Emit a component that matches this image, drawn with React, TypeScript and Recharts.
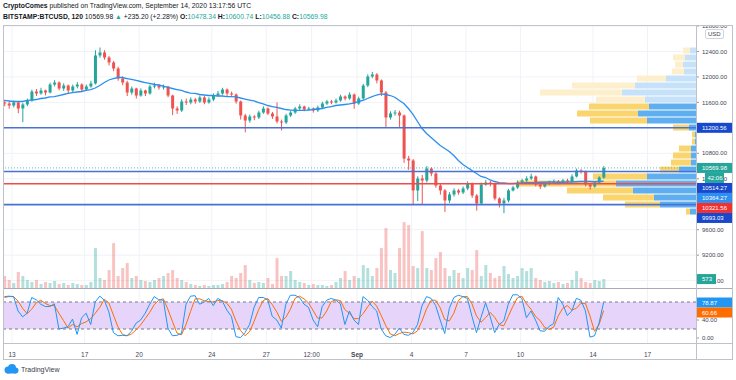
import React from 'react';
import { ComposedChart, Bar, Line, XAxis, YAxis, CartesianGrid, ReferenceLine, ReferenceArea, Cell } from 'recharts';

// 6-hour candles, BITSTAMP:BTCUSD, Aug 12 -> Sep 14 2020 (t = days since Aug 13 00:00)
const START_DAY = -0.42;
const BAR_DAYS = 0.25;
const FIRST_OPEN = 11600;

const CLOSE = [
  11582, 11551, 11598, 11504, 11567, 11630, 11771, 11740, 11787, 11755,
  11881, 11912, 11818, 11865, 11787, 11850, 11881, 11802, 11850, 11897,
  12337, 12384, 12305, 12227, 12132, 11975, 11912, 11755, 11818, 11708,
  11787, 11740, 11850, 11865, 11834, 11850, 11708, 11504, 11473, 11614,
  11598, 11645, 11614, 11677, 11598, 11645, 11708, 11740, 11802, 11740,
  11724, 11614, 11394, 11315, 11378, 11363, 11441, 11504, 11425, 11378,
  11300, 11284, 11394, 11441, 11504, 11535, 11488, 11504, 11473, 11520,
  11582, 11614, 11598, 11630, 11692, 11661, 11724, 11582, 11661, 11865,
  12007, 12038, 11944, 11755, 11363, 11426, 11441, 11394, 10718, 10687,
  10216, 10404, 10373, 10561, 10483, 10294, 10216, 10059, 10153, 10216,
  10184, 10247, 10326, 10137, 10012, 10310, 10341, 10326, 10090, 10012,
  10059, 10216, 10263, 10341, 10373, 10404, 10436, 10310, 10279, 10326,
  10341, 10357, 10341, 10373, 10357, 10436, 10530, 10514, 10310, 10279,
  10341, 10420, 10569.98,
];
const HIGH = [
  11640, 11610, 11630, 11620, 11590, 11660, 11800, 11810, 11830, 11800,
  11910, 11950, 11930, 11900, 11880, 11880, 11920, 11900, 11880, 11940,
  12420, 12462, 12420, 12330, 12250, 12160, 12010, 11940, 11850, 11830,
  11820, 11800, 11880, 11910, 11890, 11880, 11860, 11720, 11540, 11650,
  11660, 11680, 11670, 11710, 11700, 11680, 11740, 11780, 11830, 11820,
  11770, 11740, 11630, 11420, 11410, 11400, 11470, 11540, 11520, 11450,
  11600, 11330, 11420, 11470, 11530, 11570, 11550, 11530, 11520, 11550,
  11610, 11640, 11640, 11660, 11720, 11710, 11760, 11740, 11690, 11890,
  12040, 12080, 12060, 11960, 11780, 11460, 11480, 11470, 11410, 10760,
  10710, 10440, 10460, 10600, 10580, 10500, 10320, 10240, 10190, 10250,
  10240, 10280, 10360, 10340, 10160, 10340, 10380, 10370, 10340, 10110,
  10100, 10240, 10290, 10370, 10400, 10440, 10480, 10450, 10330, 10350,
  10370, 10390, 10380, 10400, 10400, 10470, 10560, 10550, 10530, 10330,
  10360, 10440, 10600.74,
];
const LOW = [
  11540, 11500, 11520, 11430, 11290, 11540, 11610, 11700, 11720, 11710,
  11740, 11850, 11790, 11780, 11740, 11760, 11820, 11760, 11780, 11830,
  11880, 12300, 12270, 12180, 12090, 11940, 11870, 11700, 11720, 11660,
  11690, 11700, 11720, 11820, 11800, 11800, 11680, 11400, 11420, 11450,
  11560, 11570, 11580, 11590, 11570, 11580, 11620, 11690, 11720, 11700,
  11690, 11580, 11330, 11130, 11280, 11320, 11340, 11420, 11400, 11340,
  11270, 11160, 11260, 11370, 11420, 11480, 11460, 11470, 11440, 11450,
  11500, 11560, 11570, 11580, 11610, 11630, 11640, 11500, 11560, 11640,
  11840, 11980, 11900, 11700, 11200, 11330, 11390, 11200, 10650, 10540,
  9990, 10050, 10000, 10340, 10440, 10260, 10150, 9880, 10020, 10120,
  10150, 10160, 10220, 10100, 9900, 9990, 10290, 10280, 10060, 9950,
  9860, 10030, 10200, 10240, 10320, 10350, 10380, 10280, 10240, 10260,
  10300, 10320, 10310, 10320, 10330, 10340, 10420, 10480, 10280, 10230,
  10260, 10320, 10400,
];
const VOLUME = [
  768, 512, 320, 1024, 768, 512, 384, 512, 256, 384,
  320, 448, 256, 320, 192, 320, 256, 192, 192, 384,
  2560, 640, 512, 1152, 2880, 768, 1280, 1600, 640, 768,
  512, 448, 384, 512, 640, 768, 960, 1152, 640, 512,
  384, 256, 192, 128, 192, 128, 192, 192, 256, 384,
  768, 640, 960, 1472, 512, 320, 384, 320, 640, 256,
  1920, 768, 768, 1088, 512, 384, 320, 192, 256, 192,
  192, 128, 192, 384, 640, 1088, 512, 768, 640, 1472,
  1280, 768, 1280, 2560, 3840, 1152, 960, 2560, 4224, 4032,
  1408, 1280, 3648, 1280, 1152, 1920, 2304, 1280, 768, 1152,
  960, 640, 1280, 1152, 2432, 768, 1472, 960, 640, 768,
  1408, 896, 640, 768, 1280, 1088, 1280, 640, 512, 384,
  448, 320, 384, 256, 320, 512, 1088, 640, 384, 320,
  512, 448, 573,
];
const MA = [
  11630, 11622, 11614, 11614, 11614, 11630, 11637, 11645, 11661, 11669,
  11685, 11692, 11708, 11724, 11740, 11755, 11763, 11771, 11787, 11802,
  11826, 11865, 11912, 11952, 11975, 11991, 11991, 11975, 11960, 11944,
  11928, 11912, 11897, 11881, 11873, 11857, 11834, 11818, 11802, 11787,
  11763, 11747, 11740, 11724, 11716, 11708, 11708, 11700, 11700, 11692,
  11692, 11685, 11669, 11653, 11637, 11622, 11598, 11575, 11551, 11535,
  11520, 11504, 11488, 11480, 11473, 11473, 11473, 11480, 11488, 11496,
  11504, 11520, 11535, 11551, 11559, 11567, 11575, 11590, 11614, 11630,
  11661, 11692, 11716, 11735, 11724, 11708, 11681, 11630, 11582, 11504,
  11410, 11300, 11190, 11111, 11049, 10986, 10923, 10876, 10829, 10766,
  10687, 10624, 10577, 10530, 10483, 10436, 10420, 10381, 10357, 10341,
  10334, 10326, 10326, 10330, 10334, 10338, 10341, 10341, 10345, 10345,
  10349, 10349, 10345, 10345, 10349, 10349, 10353, 10357, 10357, 10357,
  10353, 10357, 10361,
];
const STOCH_K = [
  92, 93, 92, 60, 47, 55, 90, 85, 75, 70,
  70, 76, 20, 22, 25, 42, 8, 45, 55, 30,
  80, 93, 84, 58, 12, 5, 6, 5, 15, 33,
  40, 55, 75, 92, 85, 84, 22, 5, 6, 10,
  75, 93, 94, 75, 80, 88, 72, 88, 82, 62,
  48, 3, 1, 12, 30, 68, 90, 90, 85, 48,
  40, 22, 75, 95, 95, 90, 75, 68, 40, 25,
  70, 84, 88, 84, 76, 30, 60, 40, 30, 92,
  84, 70, 60, 20, 5, 1, 8, 22, 8, 6,
  12, 30, 72, 92, 88, 72, 40, 10, 65, 90,
  95, 92, 88, 48, 12, 46, 78, 48, 12, 30,
  38, 75, 96, 96, 88, 45, 60, 40, 16, 15,
  26, 32, 90, 75, 50, 60, 88, 84, 60, 2,
  5, 33, 78.87,
];
const STOCH_D = [
  90, 92, 92, 82, 66, 54, 64, 78, 84, 77,
  72, 72, 55, 39, 22, 30, 25, 32, 36, 43,
  55, 68, 86, 78, 51, 25, 8, 5, 9, 18,
  29, 43, 57, 74, 84, 87, 64, 37, 11, 7,
  30, 59, 87, 87, 83, 81, 80, 83, 83, 77,
  64, 38, 17, 5, 14, 37, 63, 83, 88, 74,
  58, 37, 46, 64, 88, 93, 87, 78, 61, 44,
  45, 60, 81, 85, 83, 63, 55, 43, 43, 54,
  69, 82, 71, 50, 28, 9, 5, 10, 13, 12,
  9, 16, 38, 65, 84, 84, 67, 41, 38, 55,
  83, 92, 92, 76, 49, 35, 45, 57, 46, 30,
  27, 48, 70, 89, 93, 76, 64, 48, 39, 24,
  19, 24, 49, 66, 72, 62, 66, 77, 77, 49,
  15, 30, 60.66,
];

// visible-range volume profile, bins of 110 USD from 9830 upward (up = blue, down = yellow)
const PROFILE_BASE = 9830;
const PROFILE_STEP = 110;
const PROFILE_UP = [60, 360, 420, 630, 800, 490, 170, 50, 50, 50, 10, 10, 70, 490, 580, 470, 510, 740, 610, 300, 120, 130, 110, 60];
const PROFILE_DOWN = [40, 350, 510, 660, 990, 540, 190, 200, 180, 120, 30, 30, 160, 570, 610, 600, 490, 820, 630, 290, 120, 80, 120, 70];
const VALUE_AREA_TOP = 15;

const TIME_TICKS = [0, 4, 7, 11, 14, 16.5, 19, 22, 25, 28, 32, 35];
const TIME_LABELS = ['13', '17', '20', '24', '27', '12:00', 'Sep', '4', '7', '10', '14', '17'];
const PRICE_GRID = [8800, 9200, 9600, 10000, 10400, 10800, 11200, 11600, 12000, 12400, 12800];
const PRICE_TICKS = [8800, 9200, 9600, 10400, 10800, 11600, 12000, 12400, 12800];
const STOCH_TICKS = [0, 40];

const LEVELS_BLUE = [11200.56, 10514.27, 9993.03];
const LEVEL_RED = 10321.56;
const LAST_PRICE = 10569.98;
const TAG_PRICES = [11200.56, 10569.98, 10569.98, 10514.27, 10364.27, 10321.56, 9993.03];
const TAG_TEXTS = ['11200.56', '10569.98', '42:06', '10514.27', '10364.27', '10321.56', '9993.03'];
const STOCH_TAG_VALUES = [78.87, 60.66];

// ---- styling
const FONT = '"Liberation Sans", Arial, sans-serif';
const TEXT = '#434651';
const GRID = '#f0f2f7';
const FRAME = '#bfc2ca';
const UP = '#26a69a';
const DOWN = '#ef5350';
const TAG_COLORS = ['#1848cc', '#26a69a', '#26a69a', '#1848cc', '#2e8ff0', '#f23030', '#1848cc'];
const STOCH_TAG_COLORS = ['#2196f3', '#ff6d00'];

const CHART_W = 730;
const AXIS_W = 37;
const T_MIN = -0.5;
const T_MAX = 37.67;
const MAIN_H = 262;
const P_MIN = 8684;
const P_MAX = 12800;
const VOL_MAX = 16800;
const VP_SPAN = 6930; // profile volume that would fill the whole pane width
const STOCH_H = 55;
const S_MIN = -11.1;
const S_MAX = 111.1;
const TAG_H = 10;

const rows = CLOSE.map((c, i) => ({
  t: START_DAY + i * BAR_DAYS,
  o: i === 0 ? FIRST_OPEN : CLOSE[i - 1],
  h: HIGH[i],
  l: LOW[i],
  c,
  v: VOLUME[i],
  ma: MA[i],
  k: STOCH_K[i],
  d: STOCH_D[i],
}));

// profile volume -> time units, measured back from the right edge
const vpX = (vol: number) => T_MAX - (vol / VP_SPAN) * (T_MAX - T_MIN);

// push overlapping axis tags downwards like the platform does
function stackOffsets(values: number[], min: number, max: number, h: number) {
  let prev = -Infinity;
  return values.map((p) => {
    const own = ((max - p) / (max - min)) * h;
    const pos = Math.max(own, prev + TAG_H);
    prev = pos;
    return pos - own;
  });
}
const TAG_DY = stackOffsets(TAG_PRICES, P_MIN, P_MAX, MAIN_H);
const STOCH_DY = stackOffsets(STOCH_TAG_VALUES, S_MIN, S_MAX, STOCH_H);

const Candle = (props: any) => {
  const { x, y, width, height, payload } = props;
  const { o, h, l, c } = payload;
  const color = c >= o ? UP : DOWN;
  const py = (p: number) => y + ((h - p) / (h - l)) * height;
  const cx = x + width / 2;
  const top = py(Math.max(o, c));
  const bot = py(Math.min(o, c));
  return (
    <g>
      <line x1={cx} x2={cx} y1={y} y2={y + height} stroke={color} strokeWidth={1} />
      <rect x={x} y={top} width={width} height={Math.max(1, bot - top)} fill={color} />
    </g>
  );
};

const Tag = (props: any) => {
  const { viewBox, text, bg, dy, kind } = props;
  const shift = kind === 'count' ? 9 : 0;
  const w = kind === 'count' ? 19 : kind === 'vol' ? 20 : 36;
  const x = viewBox.x + viewBox.width + shift;
  const y = viewBox.y + dy;
  return (
    <g>
      <rect x={x} y={y - TAG_H / 2} width={w} height={TAG_H} fill={bg} />
      <text x={x + (kind === 'count' ? 2.5 : 6)} y={y + 2.2} fill="#fff" fontSize={6} fontFamily={FONT}>{text}</text>
    </g>
  );
};

const TimeTick = (props: any) => {
  const { x, y, payload } = props;
  const label = TIME_LABELS[TIME_TICKS.indexOf(payload.value)];
  return (
    <text x={x} y={y + 6} textAnchor="middle" fontSize={6.5} fontFamily={FONT} fill={TEXT} fontWeight={label === 'Sep' ? 700 : 400}>
      {label}
    </text>
  );
};

const hLine = (left: number, top: number, width: number, color = FRAME): React.CSSProperties => ({
  position: 'absolute', left, top, width, height: 1, background: color,
});
const vLine = (left: number, top: number, height: number, color = FRAME): React.CSSProperties => ({
  position: 'absolute', left, top, width: 1, height, background: color,
});

export default function App() {
  const axisTick = { fontSize: 6, fill: TEXT, fontFamily: FONT };
  const last = rows[rows.length - 1];
  return (
    <div style={{ position: 'absolute', left: 0, top: 0, width: 736, height: 380, background: '#fff', fontFamily: FONT, color: '#131722', overflow: 'hidden' }}>
      <div style={{ position: 'absolute', left: 3, top: 2, fontSize: 6.8, whiteSpace: 'nowrap' }}>
        <b>CryptoComes</b> published on TradingView.com, September 14, 2020 13:17:56 UTC
      </div>
      <div style={{ position: 'absolute', left: 3, top: 13, fontSize: 6.8, whiteSpace: 'nowrap' }}>
        <b>BITSTAMP:BTCUSD, 120</b> 10569.98 <span style={{ color: UP }}>▲</span> +235.20 (+2.28%){' '}
        <b>O:</b><span style={{ color: UP }}>10478.34</span> <b>H:</b><span style={{ color: UP }}>10600.74</span>{' '}
        <b>L:</b><span style={{ color: UP }}>10456.88</span> <b>C:</b><span style={{ color: UP }}>10569.98</span>
      </div>

      {/* price pane */}
      <div style={{ position: 'absolute', left: 3, top: 26 }}>
        <ComposedChart width={CHART_W} height={MAIN_H} data={rows} margin={{ top: 0, right: 0, bottom: 0, left: 0 }}>
          <CartesianGrid stroke={GRID} horizontalValues={PRICE_GRID} verticalValues={TIME_TICKS} />
          <XAxis dataKey="t" type="number" domain={[T_MIN, T_MAX]} ticks={TIME_TICKS} hide allowDataOverflow />
          <XAxis xAxisId="vx" dataKey="t" type="number" domain={[T_MIN, T_MAX]} hide allowDataOverflow />
          <YAxis
            orientation="right"
            width={AXIS_W}
            domain={[P_MIN, P_MAX]}
            ticks={PRICE_TICKS}
            interval={0}
            allowDataOverflow
            axisLine={false}
            tickSize={3}
            tickMargin={3}
            tickLine={{ stroke: '#9598a1' }}
            tick={axisTick}
            tickFormatter={(v: number) => v.toFixed(2)}
          />
          <YAxis yAxisId="vol" domain={[0, VOL_MAX]} hide allowDataOverflow />

          <Bar xAxisId="vx" yAxisId="vol" dataKey="v" barSize={3} isAnimationActive={false}>
            {rows.map((r, i) => (
              <Cell key={`v-${i}`} fill={r.c >= r.o ? 'rgba(38,166,154,0.35)' : 'rgba(239,83,80,0.35)'} />
            ))}
          </Bar>

          {PROFILE_UP.map((up, i) => {
            const lo = PROFILE_BASE + i * PROFILE_STEP;
            const solid = i <= VALUE_AREA_TOP;
            return (
              <React.Fragment key={`vp-${i}`}>
                <ReferenceArea x1={vpX(up)} x2={T_MAX} y1={lo + 8} y2={lo + PROFILE_STEP - 8}
                  fill={solid ? '#5eaef0' : '#c6e2fb'} fillOpacity={1} stroke="none" />
                <ReferenceArea x1={vpX(up + PROFILE_DOWN[i])} x2={vpX(up)} y1={lo + 8} y2={lo + PROFILE_STEP - 8}
                  fill={solid ? '#fad56e' : '#fdefcb'} fillOpacity={1} stroke="none" />
              </React.Fragment>
            );
          })}

          <Bar dataKey={(r: any) => [r.l, r.h]} barSize={3} shape={Candle} isAnimationActive={false} />
          <Line dataKey="ma" stroke="#2a8ff0" strokeWidth={1.3} dot={false} isAnimationActive={false} />

          {LEVELS_BLUE.map((p) => (
            <ReferenceLine key={`b-${p}`} y={p} stroke="#4a72d6" strokeWidth={1.6} />
          ))}
          <ReferenceLine y={LEVEL_RED} stroke="#f04a4a" strokeWidth={1.6} />
          <ReferenceLine y={LAST_PRICE} stroke={UP} strokeDasharray="1 2" strokeOpacity={0.7} />
        </ComposedChart>
      </div>

      {/* price-axis tags, drawn on top of the axis labels */}
      <div style={{ position: 'absolute', left: 3, top: 26 }}>
        <ComposedChart width={CHART_W} height={MAIN_H} data={rows} margin={{ top: 0, right: AXIS_W, bottom: 0, left: 0 }}>
          <XAxis dataKey="t" type="number" domain={[T_MIN, T_MAX]} hide allowDataOverflow />
          <YAxis domain={[P_MIN, P_MAX]} hide allowDataOverflow />
          <YAxis yAxisId="vol" domain={[0, VOL_MAX]} hide allowDataOverflow />
          {TAG_PRICES.map((p, i) => (
            <ReferenceLine key={`tag-${i}`} y={p} stroke="none" ifOverflow="visible"
              label={<Tag text={TAG_TEXTS[i]} bg={TAG_COLORS[i]} dy={TAG_DY[i]} kind={TAG_TEXTS[i].length < 6 ? 'count' : 'price'} />} />
          ))}
          <ReferenceLine yAxisId="vol" y={last.v} stroke="none" ifOverflow="visible"
            label={<Tag text={String(last.v)} bg={UP} dy={0} kind="vol" />} />
        </ComposedChart>
      </div>

      {/* stochastic pane */}
      <div style={{ position: 'absolute', left: 3, top: 288 }}>
        <ComposedChart width={CHART_W} height={STOCH_H + 16} data={rows} margin={{ top: 0, right: 0, bottom: 0, left: 0 }}>
          <CartesianGrid stroke={GRID} horizontal={false} verticalValues={TIME_TICKS} />
          <XAxis dataKey="t" type="number" domain={[T_MIN, T_MAX]} ticks={TIME_TICKS} interval={0} height={16}
            allowDataOverflow axisLine={false} tickLine={false} tick={<TimeTick />} />
          <YAxis orientation="right" width={AXIS_W} domain={[S_MIN, S_MAX]} ticks={STOCH_TICKS} interval={0}
            allowDataOverflow axisLine={false} tickSize={3} tickMargin={3} tickLine={{ stroke: '#9598a1' }}
            tick={axisTick} tickFormatter={(v: number) => v.toFixed(2)} />
          <ReferenceArea y1={20} y2={80} fill="#e6d4fa" fillOpacity={1} stroke="none" />
          <ReferenceLine y={80} stroke="#787b86" strokeDasharray="3 3" />
          <ReferenceLine y={20} stroke="#787b86" strokeDasharray="3 3" />
          <Line dataKey="d" stroke="#ff6d00" strokeWidth={1} dot={false} isAnimationActive={false} />
          <Line dataKey="k" stroke="#2196f3" strokeWidth={1} dot={false} isAnimationActive={false} />
          {STOCH_TAG_VALUES.map((v, i) => (
            <ReferenceLine key={`st-${i}`} y={v} stroke="none" ifOverflow="visible"
              label={<Tag text={v.toFixed(2)} bg={STOCH_TAG_COLORS[i]} dy={STOCH_DY[i]} kind="price" />} />
          ))}
        </ComposedChart>
      </div>

      {/* frame */}
      <div style={hLine(3, 25, 730)} />
      <div style={hLine(3, 288, 730, '#a9acb5')} />
      <div style={hLine(3, 343, 730)} />
      <div style={hLine(3, 359, 730)} />
      <div style={vLine(3, 25, 335)} />
      <div style={vLine(732, 25, 335)} />
      <div style={vLine(696, 25, 335)} />

      <div style={{ position: 'absolute', left: 705, top: 29, fontSize: 6, padding: '1px 2px', border: '1px solid #d1d4dc', borderRadius: 2, color: TEXT, background: '#fff' }}>USD</div>

      <div style={{ position: 'absolute', left: 3, top: 364, display: 'flex', alignItems: 'center' }}>
        <svg width={16} height={10} viewBox="0 0 16 10">
          <circle cx={5} cy={6} r={3.5} fill="#2196f3" />
          <circle cx={9} cy={4} r={4} fill="#2196f3" />
          <circle cx={12.5} cy={6.5} r={3} fill="#2196f3" />
          <rect x={4} y={6} width={9} height={3.5} fill="#2196f3" />
        </svg>
        <span style={{ fontSize: 7, marginLeft: 2, color: '#3a3d47' }}>TradingView</span>
      </div>
    </div>
  );
}
